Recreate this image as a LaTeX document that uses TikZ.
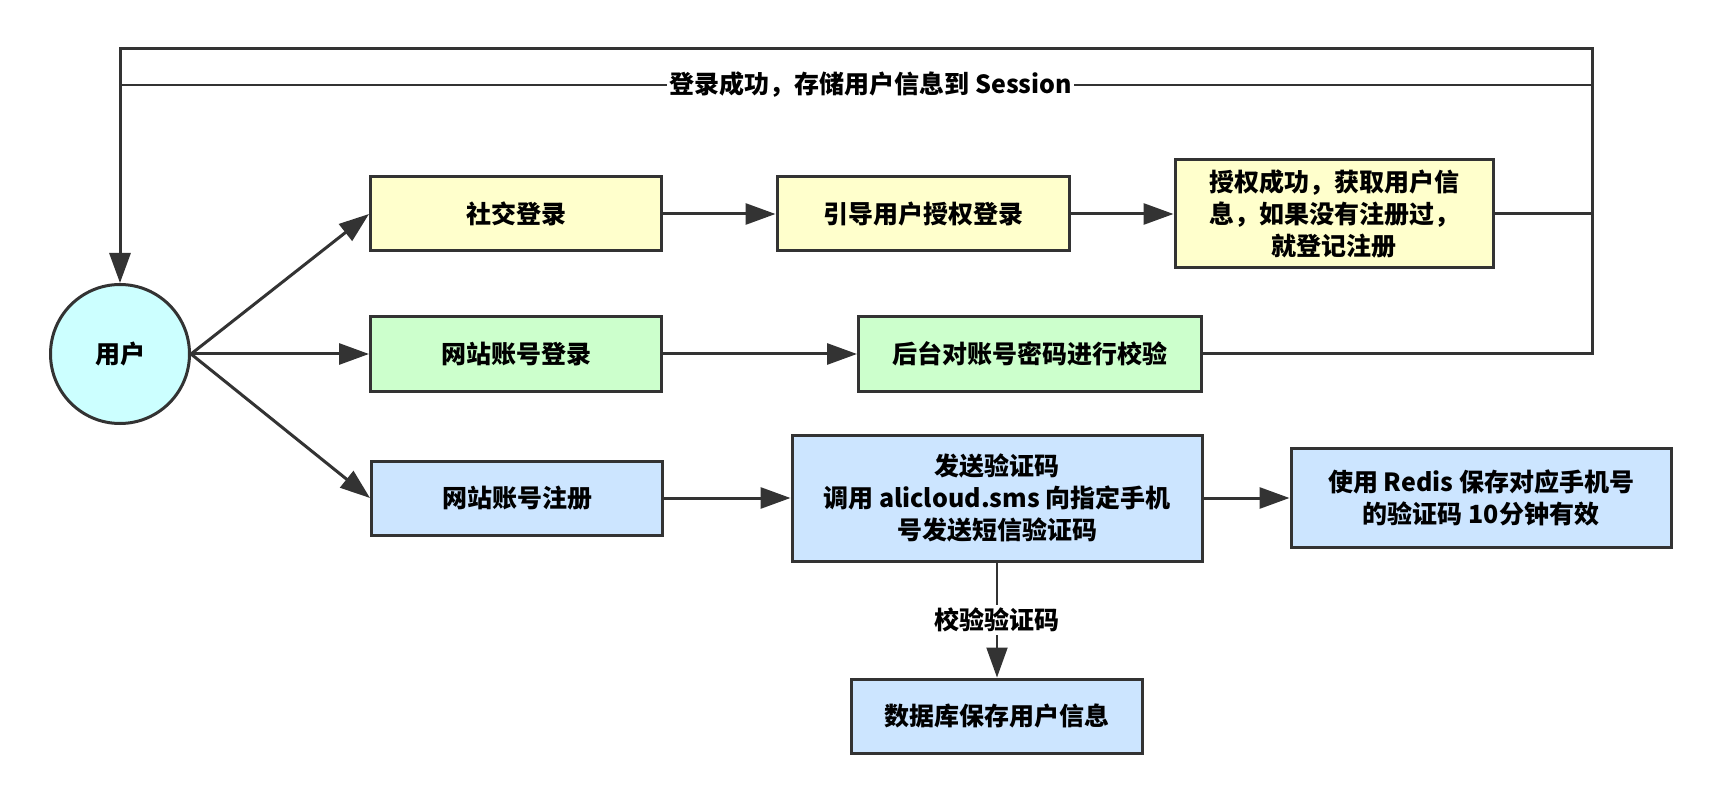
\documentclass[tikz,border=0pt]{standalone}
\usepackage{fontspec}
\setmainfont{Noto Sans CJK SC}
\usetikzlibrary{arrows.meta}
\definecolor{linegray}{HTML}{333333}
\definecolor{socialyellow}{HTML}{FFFFCC}
\definecolor{accountgreen}{HTML}{CCFFCC}
\definecolor{registerblue}{HTML}{CCE5FF}
\definecolor{usercyan}{HTML}{CCFFFF}

\begin{document}
\begin{tikzpicture}[x=1pt, y=-1pt,
        font=\fontsize{25}{32}\selectfont\bfseries,
        box/.style={draw=linegray, line width=3pt, align=center, inner sep=0pt,
            minimum height=74pt},
        conn/.style={draw=linegray, line width=3pt,
            -{Triangle[length=30pt,width=21pt]}},
        plainline/.style={draw=linegray, line width=3pt},
        thinline/.style={draw=linegray, line width=2pt}]
        \useasboundingbox (0,0) rectangle (1722,802);

        % user and the three entry points
        \node[box, circle, fill=usercyan, minimum size=139pt] (user) at (120,354) {用户};
        \node[box, fill=socialyellow, minimum width=291pt] (social) at (516,214) {社交登录};
        \node[box, fill=accountgreen, minimum width=291pt] (weblogin) at (516,354) {网站账号登录};
        \node[box, fill=registerblue, minimum width=291pt] (webreg) at (517,498) {网站账号注册};

        % social login
        \node[box, fill=socialyellow, minimum width=292pt] (guide) at (923,214) {引导用户授权登录};
        \node[box, fill=socialyellow, minimum width=318pt, minimum height=108pt] (authok) at (1334,214)
            {授权成功，获取用户信\\息，如果没有注册过，\\就登记注册};

        % account login
        \node[box, fill=accountgreen, minimum width=343pt] (verify) at (1030,354) {后台对账号密码进行校验};

        % registration
        \node[box, fill=registerblue, minimum width=410pt, minimum height=126pt] (sendcode) at (997,498)
            {发送验证码\\调用 alicloud.sms 向指定手机\\号发送短信验证码};
        \node[box, fill=registerblue, minimum width=380pt, minimum height=99pt] (redis) at (1481,498)
            {使用 Redis 保存对应手机号\\的验证码 10分钟有效};
        \node[box, fill=registerblue, minimum width=291pt] (savedb) at (997,716) {数据库保存用户信息};

        \coordinate (topright) at (1592,49);
        \coordinate (sessionl) at (120,85);
        \coordinate (sessionr) at (1592,85);

        \draw[conn] (user.east) -- (social.west);
        \draw[conn] (user.east) -- (weblogin.west);
        \draw[conn] (user.east) -- (webreg.west);

        \draw[conn] (social) -- (guide);
        \draw[conn] (guide) -- (authok);
        \draw[conn] (weblogin) -- (verify);
        \draw[conn] (webreg) -- (sendcode);
        \draw[conn] (sendcode) -- (redis);
        \draw[conn, line width=2pt] (sendcode) -- node[fill=white, inner sep=3pt] {校验验证码} (savedb);

        % back to the user
        \draw[conn] (verify.east) -| (topright) -| (user.north);
        \draw[plainline] (authok.east) -- (authok.east -| topright);
        \draw[thinline] (sessionl) -- node[pos=0.51, fill=white, inner sep=2pt]
            {登录成功，存储用户信息到 Session} (sessionr);
\end{tikzpicture}
\end{document}
